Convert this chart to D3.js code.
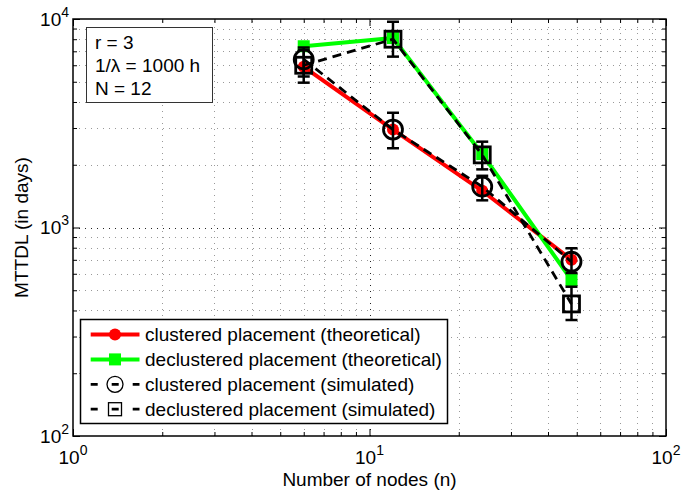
<!DOCTYPE html>
<html>
<head>
<meta charset="utf-8">
<script src="https://cdn.jsdelivr.net/npm/d3@7"></script>
<style>
  body { margin: 0; background: #fff; }
  svg text { font-family: "Liberation Sans", Arial, Helvetica, sans-serif; fill: #000; }
</style>
</head>
<body>
<div id="chart"></div>
<script>
// number of nodes (x) and MTTDL in days (y)
const nodes = [6, 12, 24, 48];
const clusteredTheory = [5900, 2950, 1500, 700];
const declusteredTheory = [7400, 8100, 2250, 560];
const clusteredSim = [6400, 2950, 1570, 685];
const clusteredSimLow = [5300, 2400, 1350, 605];
const clusteredSimHigh = [7300, 3550, 1770, 795];
const declusteredSim = [6000, 8000, 2230, 430];
const declusteredSimLow = [4950, 6600, 1900, 360];
const declusteredSimHigh = [7100, 9700, 2580, 520];

const xDecades = [1, 10, 100];
const yDecades = [100, 1000, 10000];
const seriesNames = [
  "clustered placement (theoretical)",
  "declustered placement (theoretical)",
  "clustered placement (simulated)",
  "declustered placement (simulated)"
];
const infoLines = ["r = 3", "1/\u03bb = 1000 h", "N = 12"];

const width = 699;
const height = 491;
const pLeft = 73, pRight = 666, pTop = 19, pBottom = 436;

const x = d3.scaleLog().domain([1, 100]).range([pLeft, pRight]);
const y = d3.scaleLog().domain([100, 10000]).range([pBottom, pTop]);

function minorsOf(decades) {
  const out = [];
  decades.slice(0, -1).forEach(d => {
    for (let k = 2; k <= 9; k++) out.push(d * k);
  });
  return out;
}
const xMinor = minorsOf(xDecades);
const yMinor = minorsOf(yDecades);

const svg = d3.select("#chart").append("svg")
  .attr("width", width)
  .attr("height", height);

// grid
const grid = svg.append("g").attr("fill", "none").attr("stroke-width", 1).attr("stroke-dasharray", "1,5");
grid.selectAll(".gx").data(xMinor.concat(xDecades.slice(1, -1))).enter().append("line")
  .attr("x1", d => Math.round(x(d)) + 0.5).attr("x2", d => Math.round(x(d)) + 0.5)
  .attr("y1", pBottom).attr("y2", pTop)
  .attr("stroke", d => xDecades.includes(d) ? "#222" : "#999");
grid.selectAll(".gy").data(yMinor.concat(yDecades.slice(1, -1))).enter().append("line")
  .attr("y1", d => Math.round(y(d)) + 0.5).attr("y2", d => Math.round(y(d)) + 0.5)
  .attr("x1", pLeft).attr("x2", pRight)
  .attr("stroke", d => yDecades.includes(d) ? "#222" : "#999");

// ticks on all four sides, pointing inward
function ticks(axisFn, values, size, transform) {
  svg.append("g")
    .attr("transform", transform)
    .call(axisFn.tickValues(values).tickSize(size).tickFormat(""))
    .call(g => g.select(".domain").remove())
    .call(g => g.selectAll("line").attr("stroke", "#000").attr("stroke-width", 1));
}
ticks(d3.axisBottom(x), xDecades, -7, `translate(0,${pBottom})`);
ticks(d3.axisBottom(x), xMinor, -4, `translate(0,${pBottom})`);
ticks(d3.axisTop(x), xDecades, -7, `translate(0,${pTop})`);
ticks(d3.axisTop(x), xMinor, -4, `translate(0,${pTop})`);
ticks(d3.axisLeft(y), yDecades, -7, `translate(${pLeft},0)`);
ticks(d3.axisLeft(y), yMinor, -4, `translate(${pLeft},0)`);
ticks(d3.axisRight(y), yDecades, -7, `translate(${pRight},0)`);
ticks(d3.axisRight(y), yMinor, -4, `translate(${pRight},0)`);

svg.append("rect")
  .attr("x", pLeft).attr("y", pTop)
  .attr("width", pRight - pLeft).attr("height", pBottom - pTop)
  .attr("fill", "none").attr("stroke", "#000").attr("stroke-width", 1.5);

// tick labels 10^k
const xl = svg.append("g").selectAll("text").data(xDecades).enter().append("text")
  .attr("x", d => x(d)).attr("y", 464)
  .attr("text-anchor", "middle")
  .style("font-size", "19px");
xl.append("tspan").text("10");
xl.append("tspan").attr("dy", -9).style("font-size", "14px").text(d => Math.round(Math.log10(d)));

const yl = svg.append("g").selectAll("text").data(yDecades).enter().append("text")
  .attr("x", 69).attr("y", d => y(d) + 6.5)
  .attr("text-anchor", "end")
  .style("font-size", "19px");
yl.append("tspan").text("10");
yl.append("tspan").attr("dy", -9).style("font-size", "14px").text(d => Math.round(Math.log10(d)));

svg.append("text")
  .attr("x", (pLeft + pRight) / 2).attr("y", 486)
  .attr("text-anchor", "middle")
  .style("font-size", "19px")
  .text("Number of nodes (n)");

svg.append("text")
  .attr("transform", `translate(28,${(pTop + pBottom) / 2}) rotate(-90)`)
  .attr("text-anchor", "middle")
  .style("font-size", "19px")
  .text("MTTDL (in days)");

// data
const line = d3.line().x(d => x(d[0])).y(d => y(d[1]));
const plot = svg.append("g");

function theory(values, color, marker) {
  const pts = nodes.map((n, i) => [n, values[i]]);
  plot.append("path").datum(pts)
    .attr("d", line).attr("fill", "none")
    .attr("stroke", color).attr("stroke-width", 4).attr("stroke-linejoin", "round");
  if (marker === "circle") {
    plot.selectAll(null).data(pts).enter().append("circle")
      .attr("cx", d => x(d[0])).attr("cy", d => y(d[1])).attr("r", 6)
      .attr("fill", color);
  } else {
    plot.selectAll(null).data(pts).enter().append("rect")
      .attr("x", d => x(d[0]) - 6).attr("y", d => y(d[1]) - 6)
      .attr("width", 12).attr("height", 12)
      .attr("fill", color);
  }
}

function simulated(values, low, high, marker) {
  const pts = nodes.map((n, i) => [n, values[i], low[i], high[i]]);
  plot.append("path").datum(pts)
    .attr("d", line).attr("fill", "none")
    .attr("stroke", "#000").attr("stroke-width", 2.8).attr("stroke-dasharray", "9,6");
  const eb = plot.append("g").attr("stroke", "#000").attr("stroke-width", 2.5);
  eb.selectAll(null).data(pts).enter().append("line")
    .attr("x1", d => x(d[0])).attr("x2", d => x(d[0]))
    .attr("y1", d => y(d[2])).attr("y2", d => y(d[3]));
  [2, 3].forEach(k => {
    eb.selectAll(null).data(pts).enter().append("line")
      .attr("x1", d => x(d[0]) - 6).attr("x2", d => x(d[0]) + 6)
      .attr("y1", d => y(d[k])).attr("y2", d => y(d[k]));
  });
  if (marker === "circle") {
    plot.selectAll(null).data(pts).enter().append("circle")
      .attr("cx", d => x(d[0])).attr("cy", d => y(d[1])).attr("r", 9.5)
      .attr("fill", "none").attr("stroke", "#000").attr("stroke-width", 2.8);
  } else {
    plot.selectAll(null).data(pts).enter().append("rect")
      .attr("x", d => x(d[0]) - 8).attr("y", d => y(d[1]) - 8)
      .attr("width", 16).attr("height", 16)
      .attr("fill", "none").attr("stroke", "#000").attr("stroke-width", 2.8);
  }
}

theory(clusteredTheory, "#ff0000", "circle");
theory(declusteredTheory, "#00ff00", "square");
simulated(clusteredSim, clusteredSimLow, clusteredSimHigh, "circle");
simulated(declusteredSim, declusteredSimLow, declusteredSimHigh, "square");

// parameter box
const info = svg.append("g");
info.append("rect")
  .attr("x", 86.5).attr("y", 27.5).attr("width", 126).attr("height", 75)
  .attr("fill", "#fff").attr("stroke", "#333").attr("stroke-width", 1);
info.selectAll("text").data(infoLines).enter().append("text")
  .attr("x", 95).attr("y", (d, i) => 48.5 + i * 23.3)
  .style("font-size", "19px")
  .text(d => d);

// legend
const legend = svg.append("g");
legend.append("rect")
  .attr("x", 80.5).attr("y", 319.5).attr("width", 367).attr("height", 104)
  .attr("fill", "#fff").attr("stroke", "#000").attr("stroke-width", 1.5);
const styles = [
  {color: "#ff0000", w: 4, dash: null, marker: "circle", fill: true},
  {color: "#00ff00", w: 4, dash: null, marker: "square", fill: true},
  {color: "#000", w: 2.8, dash: "7,14", marker: "circle", fill: false},
  {color: "#000", w: 2.8, dash: "7,14", marker: "square", fill: false}
];
const rows = legend.selectAll(".row").data(seriesNames).enter().append("g")
  .attr("transform", (d, i) => `translate(0,${334.5 + i * 24.9})`);
rows.append("line")
  .attr("x1", 90.7).attr("x2", 139.5).attr("y1", 0).attr("y2", 0)
  .attr("stroke", (d, i) => styles[i].color)
  .attr("stroke-width", (d, i) => styles[i].w)
  .attr("stroke-dasharray", (d, i) => styles[i].dash);
rows.each(function(d, i) {
  const s = styles[i];
  const g = d3.select(this);
  if (s.marker === "circle") {
    g.append("circle").attr("cx", 115).attr("cy", 0).attr("r", s.fill ? 6 : 8)
      .attr("fill", s.fill ? s.color : "none")
      .attr("stroke", s.fill ? "none" : "#000").attr("stroke-width", 1.3);
  } else {
    const h = s.fill ? 6 : 6.5;
    g.append("rect").attr("x", 115 - h).attr("y", -h).attr("width", 2 * h).attr("height", 2 * h)
      .attr("fill", s.fill ? s.color : "none")
      .attr("stroke", s.fill ? "none" : "#000").attr("stroke-width", 1.3);
  }
});
rows.append("text")
  .attr("x", 145).attr("y", 6.8)
  .style("font-size", "19px")
  .text(d => d);
</script>
</body>
</html>
